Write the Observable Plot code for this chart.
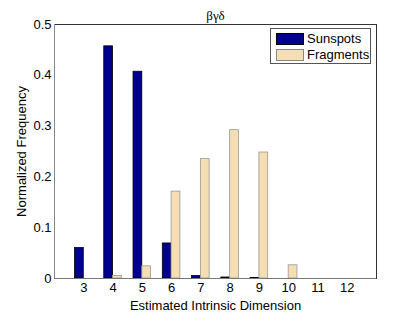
<!DOCTYPE html>
<html><head><meta charset="utf-8">
<script src="https://cdn.jsdelivr.net/npm/d3@7"></script>
<script src="https://cdn.jsdelivr.net/npm/@observablehq/plot@0.6"></script>
<style>
body{margin:0;background:#fff;}
#wrap{position:relative;width:415px;height:313px;}
#legend{position:absolute;left:270px;top:28px;width:99px;height:34px;border:1px solid #555;background:#fff;font:13px "Liberation Sans",Arial,sans-serif;}
.item{position:absolute;left:5px;display:flex;align-items:center;line-height:13px;}
.sw{width:28px;height:12px;margin-right:3px;box-sizing:border-box;}
</style></head>
<body><div id="wrap"><div id="legend"></div></div>
<script>
const dims = [3,4,5,6,7,8,9,10,11,12];
const sunspots = [0.060,0.457,0.407,0.069,0.005,0.002,0.001,0,0,0];
const fragments = [0,0.005,0.024,0.171,0.235,0.292,0.248,0.026,0,0];
const seriesNames = ["Sunspots","Fragments"];
const fills = ["#00008f","#f5deb3"];
const strokes = ["#000000","#999999"];
const xTicks = [3,4,5,6,7,8,9,10,11,12];
const yTicks = [0,0.1,0.2,0.3,0.4,0.5];
const yTickLabels = ["0","0.1","0.2","0.3","0.4","0.5"];

const barW = 0.3;
const rows = [];
dims.forEach((d,i)=>{
  rows.push({s:0,x1:d-barW,x2:d,v:sunspots[i]});
  rows.push({s:1,x1:d,x2:d+barW,v:fragments[i]});
});
const font = '"Liberation Sans",Arial,sans-serif';
const chart = Plot.plot({
  width:415,height:313,
  marginLeft:54,marginRight:39,marginTop:24,marginBottom:35,
  style:{fontFamily:font,fontSize:"13px",color:"#000",background:"#fff"},
  x:{type:"linear",domain:[2,13]},
  y:{domain:[0,0.5]},
  marks:[
    Plot.rect(rows.filter(r=>r.s===0),{x1:"x1",x2:"x2",y1:0,y2:"v",fill:fills[0],stroke:strokes[0],strokeWidth:0.8}),
    Plot.rect(rows.filter(r=>r.s===1),{x1:"x1",x2:"x2",y1:0,y2:"v",fill:fills[1],stroke:strokes[1],strokeWidth:0.8}),
    Plot.frame({stroke:"#333",strokeWidth:1}),
    Plot.ruleX([2],{stroke:"#888",strokeWidth:1}),
    Plot.ruleY([0],{stroke:"#777",strokeWidth:1}),
    Plot.axisX({ticks:xTicks,tickSize:0,tickPadding:4,fontSize:13,label:"Estimated Intrinsic Dimension",labelAnchor:"center",labelArrow:"none",labelOffset:31}),
    Plot.axisY({ticks:yTicks,tickFormat:(d,i)=>yTickLabels[i],tickSize:0,tickPadding:3,fontSize:13,label:"Normalized Frequency",labelAnchor:"center",labelArrow:"none",labelOffset:38}),
    Plot.text(["βγδ"],{frameAnchor:"top",dy:-14,fontFamily:'"Liberation Serif","DejaVu Serif",serif',fontSize:13})
  ]
});
const wrap=document.getElementById("wrap");
wrap.insertBefore(chart,wrap.firstChild);
const lg=document.getElementById("legend");
seriesNames.forEach((n,i)=>{
  const it=document.createElement("div");it.className="item";it.style.top=(3+i*16)+"px";
  const sw=document.createElement("div");sw.className="sw";sw.style.background=fills[i];sw.style.border="1px solid "+(i===0?"#000":"#888");
  const t=document.createElement("span");t.textContent=n;
  it.appendChild(sw);it.appendChild(t);lg.appendChild(it);
});
</script></body></html>
